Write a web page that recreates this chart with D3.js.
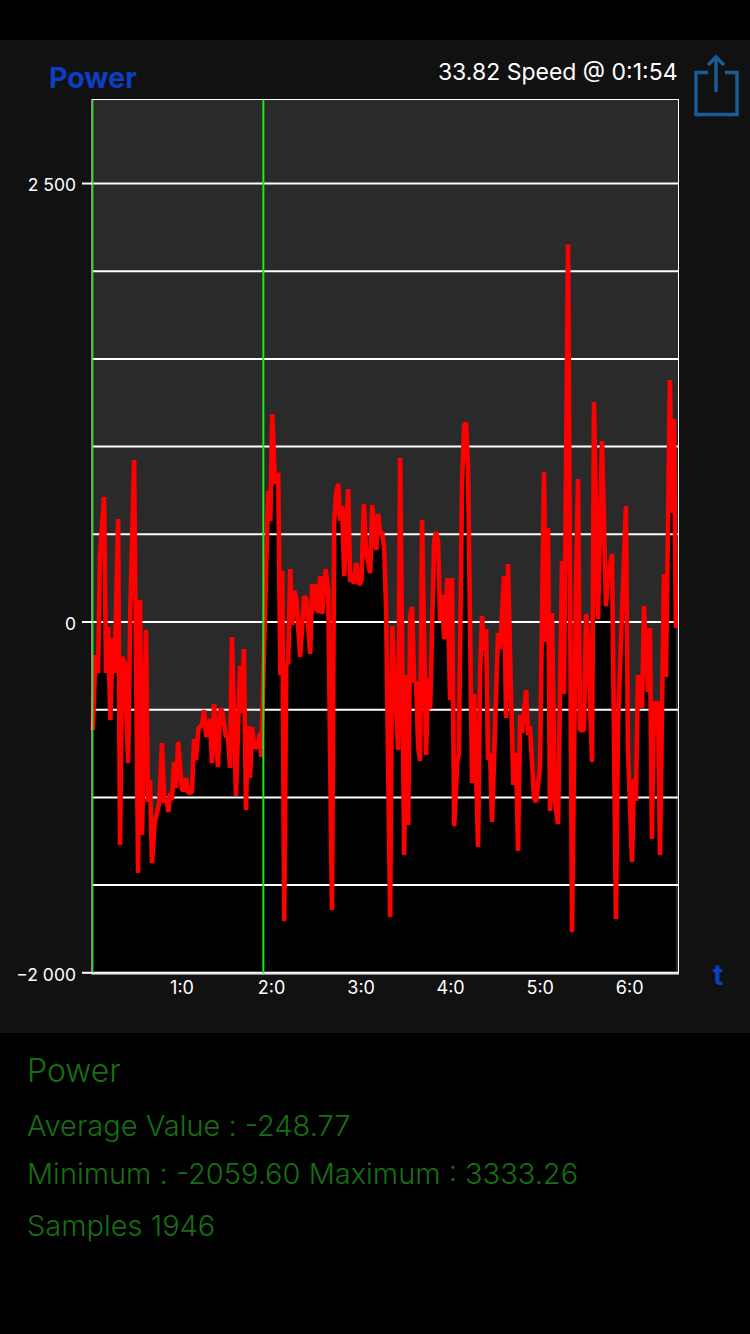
<!DOCTYPE html>
<html>
<head>
<meta charset="utf-8">
<script src="https://cdn.jsdelivr.net/npm/d3@7"></script>
<style>
    html, body { margin: 0; padding: 0; background: #000; }
    svg { display: block; }
    text { font-family: Inter, Roboto, "Noto Sans", sans-serif; }
</style>
</head>
<body>
<div id="chart"></div>
<script>
// time in seconds, power value
const times = [
    0.5, 2.3, 4.1, 5.4, 8.1, 9.4, 10.8, 12.3, 13.9, 15.2, 17.5, 18.8, 20.2, 21.9, 24.2,
    25.7, 28.2, 30.9, 32.2, 33.5, 36.2, 37.5, 38.9, 40.2, 42.0, 45.1, 46.9, 48.5, 49.8, 51.2,
    52.5, 53.6, 55.0, 56.3, 57.7, 60.3, 61.7, 63.0, 64.3, 67.0, 68.4, 69.7, 71.4, 73.7, 75.0,
    76.6, 79.1, 80.4, 81.8, 84.4, 85.8, 87.1, 89.8, 91.1, 92.5, 93.8, 96.5, 99.2, 100.5, 101.8,
    103.2, 104.5, 105.9, 107.2, 108.9, 110.8, 112.6, 113.4, 118.1, 119.5, 120.8, 122.6, 124.8, 126.2, 127.5,
    128.8, 130.2, 131.5, 132.8, 134.2, 135.5, 136.9, 139.5, 142.2, 143.6, 146.2, 147.6, 148.9, 150.2, 151.6,
    152.9, 154.3, 156.5, 158.3, 160.8, 162.3, 163.7, 165.0, 166.3, 167.7, 169.0, 171.7, 173.0, 174.4, 175.7,
    177.0, 179.3, 180.6, 182.2, 183.7, 186.4, 187.8, 190.5, 191.8, 193.1, 194.4, 195.8, 197.1, 199.8, 201.2,
    202.5, 205.2, 206.5, 209.2, 210.5, 211.9, 213.2, 214.5, 215.9, 217.2, 218.6, 219.9, 221.2, 223.9, 225.3,
    226.6, 229.3, 230.6, 231.9, 233.3, 234.6, 236.0, 238.2, 240.0, 241.3, 242.7, 244.9, 245.8, 248.0, 249.4,
    250.7, 252.0, 254.7, 256.1, 258.7, 260.1, 261.4, 262.7, 264.1, 265.4, 266.8, 268.1, 272.1, 273.5, 276.1,
    277.5, 278.8, 280.6, 282.4, 284.2, 285.5, 286.9, 288.2, 290.9, 292.2, 293.5, 296.2, 297.6, 300.2, 302.9,
    304.3, 305.6, 306.9, 308.3, 310.1, 312.3, 315.0, 316.3, 319.0, 321.7, 324.3, 325.7, 327.0, 329.7, 331.1,
    332.4, 335.1, 336.4, 339.1, 341.8, 344.4, 345.8, 348.5, 351.1, 352.5, 357.8, 359.2, 361.9, 363.2, 364.5,
    365.9, 368.6, 369.9, 372.6, 373.9, 375.2, 376.6, 379.3, 380.6, 383.3, 384.6, 387.3, 388.7, 390.0, 391.3
]
const power = [
    -619, -191, -294, 391, 710, -294, -31, -562, -94, -294, 584, -1274, -202, -237, -807,
    66, 921, -1434, 123, -1217, -48, -1029, -904, -1377, -1149, -1035, -693, -1035, -1001, -1086,
    -978, -1018, -801, -949, -687, -961, -961, -892, -978, -972, -670, -790, -607, -590, -505,
    -658, -556, -807, -470, -829, -505, -505, -658, -653, -835, -88, -995, -254, -522, -157,
    -1075, -596, -892, -601, -715, -721, -636, -772, 744, 573, 1183, 784, 847, -305, 288,
    -1707, -231, -242, 299, -20, 174, 134, -202, 145, 128, -185, 214, 60, 214, 48,
    259, 43, 299, 174, -1645, 562, 744, 784, 573, 658, 259, 755, 225, 276, 214,
    334, 208, 237, 670, 402, 276, 664, 408, 613, 499, 510, 419, 71, -1685, -26,
    -282, -733, 932, -1331, -305, -1160, 31, 83, -345, -345, -721, -795, 579, -761, -322,
    -499, 459, 510, 459, 3, 151, -100, 248, -448, 248, -1166, -784, -761, 784, 1120,
    1132, 869, -921, -413, -1286, -288, 31, -168, -43, -790, -750, -1143, -66, -157, 259,
    -550, 328, -351, -932, -750, -1308, -533, -636, -391, -647, -596, -1006, -1029, -830, 852,
    -117, 533, -1080, 48, -1023, -1155, 345, -413, 2149, -1770, 168, 812, -619, -619, 43,
    -94, -801, 1251, 14, 1029, 88, 259, 385, -1696, -584, 658, -738, -1371, -898, -1023,
    -305, -493, 88, -402, -37, -1240, -465, -465, -1331, 271, -316, 1377, 619, 1155, -37
]
const gridValues = [2500, 2000, 1500, 1000, 500, 0, -500, -1000, -1500, -2000]
const yTickValues = [2500, 0, -2000]
const xTickValues = [60, 120, 180, 240, 300, 360]
const cursorTimes = [0, 114.3]
// the line at the start is thinner than the cursor
const cursorWidths = [1.2, 2]

const statsLines = ["Average Value : -248.77", "Minimum : -2059.60 Maximum : 3333.26", "Samples 1946"]

const width = 750
const height = 1334
const plot = { left: 92, right: 678, top: 99, bottom: 973 }

const svg = d3.select("#chart")
    .append("svg")
    .attr("width", width)
    .attr("height", height)

// panel behind the chart
svg.append("rect")
    .attr("x", 0).attr("y", 40)
    .attr("width", width).attr("height", 993)
    .attr("fill", "#111111")

const x = d3.scaleLinear().domain([0, 392.7]).range([plot.left, plot.right])
const y = d3.scaleLinear().domain([-2004, 2979]).range([plot.bottom, plot.top])

const points = times.map((t, i) => [t, power[i]])

svg.append("rect")
    .attr("x", plot.left).attr("y", plot.top)
    .attr("width", plot.right - plot.left).attr("height", plot.bottom - plot.top)
    .attr("fill", "#2a2a2a")

// black under the curve
svg.append("path")
    .datum(points)
    .attr("fill", "#000")
    .attr("d", d3.area().x(d => x(d[0])).y0(plot.bottom).y1(d => y(d[1])))

// grid lines
const grid = svg.append("g")
    .attr("transform", `translate(${plot.left},0)`)
    .call(d3.axisLeft(y).tickValues(gridValues).tickSize(-(plot.right - plot.left)).tickFormat(""))
grid.select(".domain").remove()
grid.selectAll("line").attr("stroke", "#fff").attr("stroke-width", 2)

// y labels with their small ticks
const yAxis = svg.append("g")
    .attr("transform", `translate(${plot.left},0)`)
    .call(d3.axisLeft(y).tickValues(yTickValues).tickSize(10).tickPadding(6)
        .tickFormat(d => d3.format(",")(d).replace(",", " ")))
yAxis.select(".domain").remove()
yAxis.selectAll("line").attr("stroke", "#fff").attr("stroke-width", 2)
yAxis.selectAll("text")
    .attr("fill", "#fff")
    .attr("dy", "0.44em")
    .style("font-size", "17.5px")

// x labels
const xAxis = svg.append("g")
    .attr("transform", `translate(0,${plot.bottom})`)
    .call(d3.axisBottom(x).tickValues(xTickValues).tickSize(0).tickPadding(21)
        .tickFormat(d => Math.floor(d / 60) + ":" + (d % 60)))
xAxis.select(".domain").remove()
xAxis.selectAll("text")
    .attr("fill", "#fff")
    .attr("dy", 0)
    .style("font-size", "18px")

// the power line
svg.append("path")
    .datum(points)
    .attr("fill", "none")
    .attr("stroke", "#ff0000")
    .attr("stroke-width", 4.6)
    .attr("stroke-linejoin", "bevel")
    .attr("d", d3.line().x(d => x(d[0])).y(d => y(d[1])))

// plot border
svg.append("rect")
    .attr("x", plot.left).attr("y", plot.top + 0.5)
    .attr("width", plot.right - plot.left + 0.5).attr("height", plot.bottom - plot.top + 0.5)
    .attr("fill", "none")
    .attr("stroke", "#fff")
    .attr("stroke-width", 1)

// cursor lines
svg.selectAll(".cursor")
    .data(cursorTimes)
    .enter()
    .append("line")
    .attr("class", "cursor")
    .attr("x1", d => x(d) + 0.8).attr("x2", d => x(d) + 0.8)
    .attr("y1", plot.top + 1).attr("y2", plot.bottom)
    .attr("stroke", "#1ee81a")
    .attr("stroke-width", (d, i) => cursorWidths[i])

// header texts
svg.append("text")
    .attr("x", 49).attr("y", 87.5)
    .attr("fill", "#0a3fc4")
    .style("font-size", "28.5px").style("font-weight", 700)
    .text("Power")

svg.append("text")
    .attr("x", 677.5).attr("y", 80)
    .attr("text-anchor", "end")
    .attr("fill", "#fff")
    .style("font-size", "23px")
    .text("33.82 Speed @ 0:1:54")

svg.append("text")
    .attr("x", 713).attr("y", 985)
    .attr("fill", "#0a3fc4")
    .style("font-size", "28px").style("font-weight", 700)
    .text("t")

// share icon
svg.append("path")
    .attr("fill", "none")
    .attr("stroke", "#1a5c98")
    .attr("stroke-width", 3.4)
    .attr("d", "M708,72.5H696V114.5H737V72.5H725M716,92V57M708,65L716,57L724,65")

// stats under the chart
svg.append("text")
    .attr("x", 27).attr("y", 1082)
    .attr("fill", "#176f13")
    .style("font-size", "32px").style("font-weight", 300)
    .text("Power")

svg.selectAll(".stat")
    .data(statsLines)
    .enter()
    .append("text")
    .attr("class", "stat")
    .attr("x", 27)
    .attr("y", (d, i) => [1136, 1184, 1236][i])
    .attr("fill", "#176f13")
    .style("font-size", "29px").style("font-weight", 300)
    .text(d => d)
</script>
</body>
</html>
